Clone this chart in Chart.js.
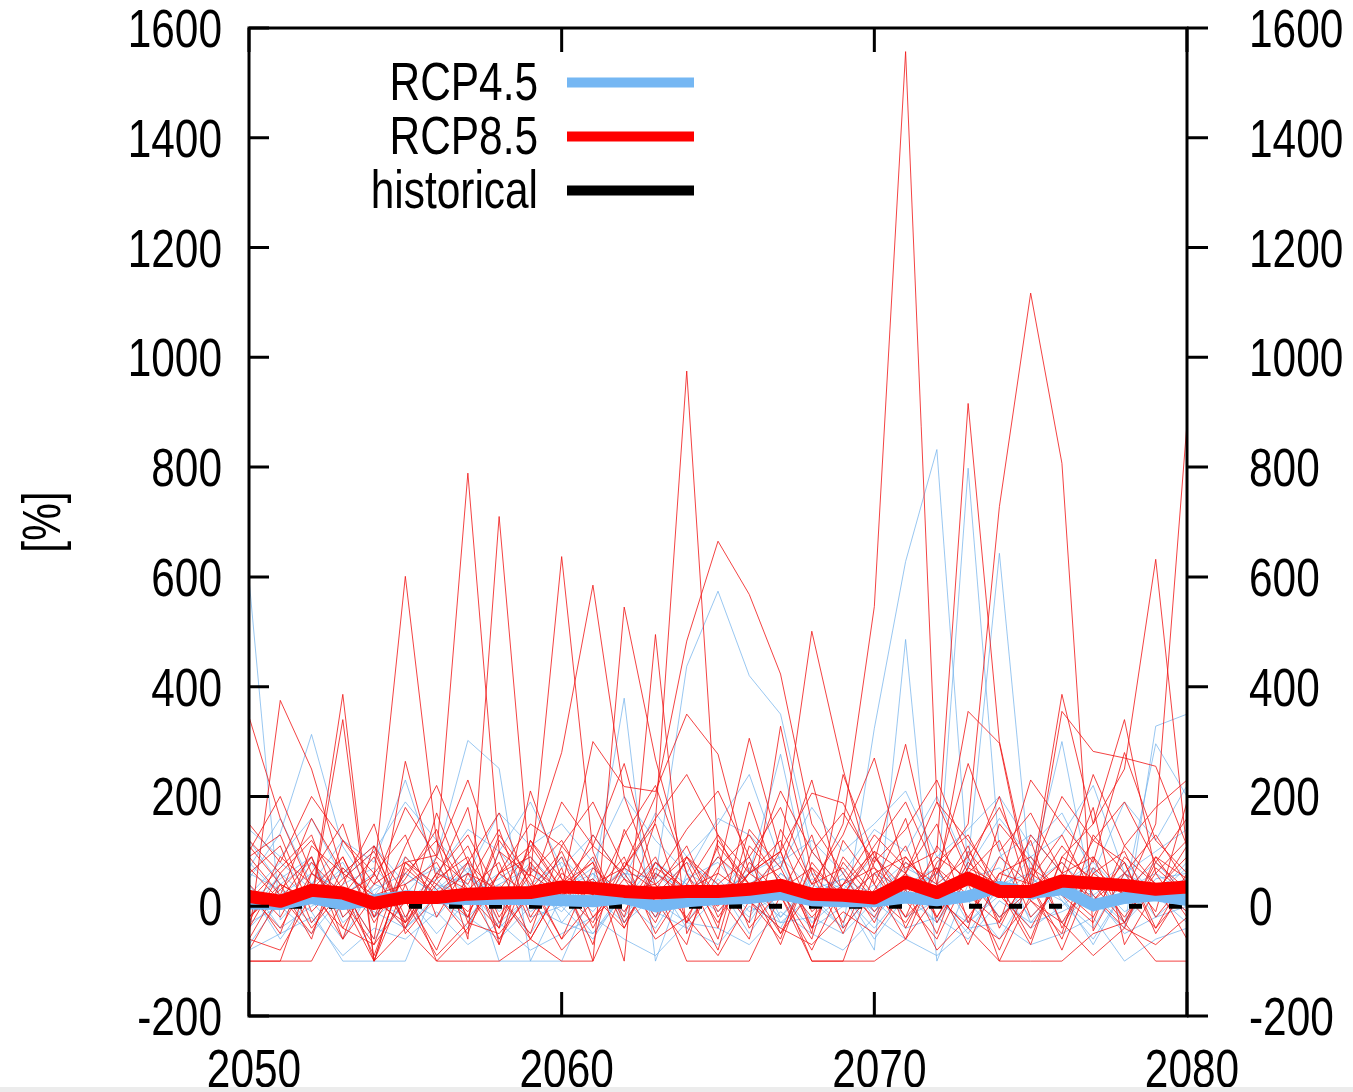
<!DOCTYPE html>
<html>
<head>
<meta charset="utf-8">
<script src="https://cdn.jsdelivr.net/npm/chart.js@4.4.1/dist/chart.umd.min.js"></script>
<style>
  html, body { margin: 0; padding: 0; background: #fff; overflow: hidden; }
  #wrap { position: relative; width: 1353px; height: 1092px; }
  #bar { position: absolute; left: 0; bottom: 0; width: 1353px; height: 5px; background: #ececec; }
</style>
</head>
<body>
<div id="wrap">
  <canvas id="chart" width="1353" height="1092"></canvas>
  <div id="bar"></div>
</div>
<script>
// years on the x axis
const years = [2050, 2051, 2052, 2053, 2054, 2055, 2056, 2057, 2058, 2059,
               2060, 2061, 2062, 2063, 2064, 2065, 2066, 2067, 2068, 2069,
               2070, 2071, 2072, 2073, 2074, 2075, 2076, 2077, 2078, 2079, 2080];
const xTicks = [2050, 2060, 2070, 2080];
const yTicks = [-200, 0, 200, 400, 600, 800, 1000, 1200, 1400, 1600];

// ensemble means [%]
const rcp45Mean = [5, 4, 15, 4, 11, 18, 15, 13, 13, 13, 11, 9, 15, 0, 9, 13, 15, 22, 11, 9,
                   9, 16, 11, 18, 35, 24, 31, 2, 15, 20, 11];
const rcp85Mean = [18, 9, 29, 24, 5, 16, 16, 22, 24, 25, 35, 33, 27, 24, 27, 27, 31, 38, 22, 20,
                   15, 44, 25, 51, 27, 27, 46, 42, 38, 31, 35];
const historical = [0, 0, 0, 0, 0, 0, 0, 0, 0, 0, 0, 0, 0, 0, 0, 0, 0, 0, 0, 0,
                    0, 0, 0, 0, 0, 0, 0, 0, 0, 0, 0];

// individual RCP8.5 runs
const rcp85Runs = [
  [20, -40, 60, 10, -70, 90, 30, -20, 120, 40, -60, 10, 70, 150, -30, 40, 90, -50, 30, 150, 546, 1557, 190, 60, -100, 20, 110, 40, -30, 80, 30],
  [60, 110, -30, 40, 150, -50, 20, 80, -60, 30, 100, -20, 50, 10, -70, 120, 40, 70, -40, 90, 20, -30, 60, 150, 728, 1117, 807, -45, 60, 20, 110],
  [-20, 30, 90, -60, 20, 40, -100, -40, 60, 110, 30, -30, 80, 40, 90, -10, 60, 20, -80, 40, 130, 70, 100, 916, 300, 40, -60, 90, 20, -40, 60],
  [90, 20, -50, 70, 10, -30, 60, 130, 20, -60, 40, 80, -20, 155, 975, 100, -40, 30, 70, -30, 90, 10, -60, 60, 120, -20, 40, 180, -70, 30, 90],
  [10, 70, 130, -20, 40, 80, 93, 789, 100, -30, 60, 20, 90, -50, 40, 130, 10, -60, 100, 30, -20, 80, 40, -70, 60, 90, 20, -30, 110, 40, -10],
  [-60, 40, 10, 90, -30, 60, 120, -60, 710, 58, 20, 90, -40, 70, 30, -80, 110, 50, -20, 40, 100, -40, 70, 20, -30, 130, 60, 10, 80, -50, 40],
  [40, -20, 80, 20, 55, 601, 118, 30, -70, 80, 10, 130, 50, -30, 90, 20, -60, 140, 40, 70, -10, 60, -50, 100, 30, -70, 90, 50, -20, 60, 120],
  [120, 60, -40, 30, -90, 70, 20, -50, 100, 55, 637, 100, -30, 60, 20, 90, 40, -70, 80, 10, 60, -20, 110, 40, -80, 50, 130, 20, -40, 90, 10],
  [-30, 90, 40, -60, 110, 20, -80, 60, 30, 100, 280, 585, 200, 40, -20, 70, 130, 40, -100, -100, 60, 90, 20, -40, 150, 80, -30, 60, 100, -20, 50],
  [30, -50, 110, 60, 20, -40, 90, 40, 140, -20, 70, -100, 545, 268, 60, -30, 80, 20, 130, -40, 30, 110, -20, 70, 40, -60, 90, 150, 250, 632, 100],
  [-100, -100, 60, 20, 90, -30, 40, 110, -20, 70, 30, 80, -100, 495, -50, 60, 20, 100, -40, 80, 10, 60, 150, -30, 90, 40, -80, 60, 20, 150, 880],
  [70, 10, 90, -40, 60, 130, -20, 80, 20, -50, 110, 40, 70, 200, 483, 665, 568, 423, 150, 60, -30, 90, 20, 110, -40, 70, 30, -20, 90, 40, -60],
  [345, 160, 30, 90, -20, 50, 140, -30, 60, 20, 90, -40, 70, 30, 110, -20, 60, 100, 501, 250, 40, -60, 80, 130, 20, -40, 60, 90, -30, 70, 20],
  [-55, 375, 250, 60, -100, 40, 80, -20, 130, 50, -60, 70, 20, 90, -30, 110, 40, -50, 70, 20, 100, 60, -20, 80, 30, 120, -40, 70, 20, 90, 50],
  [110, 40, 7, 340, -100, 80, 20, 60, -40, 120, 30, 300, 218, 209, 350, 277, 60, 100, 206, 188, 70, -20, 40, 90, -30, 60, 20, 120, 80, -40, 30],
  [-40, 60, 120, 30, -60, 264, 50, 90, -30, 60, 120, 20, -40, 80, 30, 60, 306, 100, -50, 240, 90, 30, 70, -20, 60, 40, 386, 150, 340, 60, -20],
  [90, 130, -10, 50, 100, -20, 60, 30, 80, -60, 40, 110, 60, -20, 90, 40, -30, 328, 60, -50, 80, 295, 40, 355, 297, 20, 355, 282, 270, 255, 110],
  [-100, -100, -100, 10, -100, -40, -100, -100, -100, -60, -100, -100, 30, 40, -100, -100, -100, 20, -100, -100, -100, -60, 20, -40, -100, -100, -100, -50, -30, -100, -100],
  [-60, -80, 20, -40, -70, 10, -90, -30, -50, 20, -80, -20, 30, -60, -20, -90, 10, -40, -70, -10, -50, 30, -80, -20, -60, 10, -30, -90, -40, -70, -20],
  [30, 0, 10, 386, -100, 80, 40, -10, 60, 90, 20, 50, -10, 80, 30, 0, 60, 120, -10, 40, 70, 20, 90, 50, -20, 30, 80, 10, 60, 130, 40],
  [150, 80, 200, 120, 40, 180, 90, 230, 60, 150, 110, 190, 70, 160, 240, 130, 60, 210, 100, 170, 80, 140, 230, 90, 180, 60, 200, 120, 190, 80, 160],
  [-20, 40, -60, 120, 60, -30, 170, 20, -40, 210, 50, -70, 140, 20, 80, -40, 190, 30, -60, 120, 40, 160, -30, 70, 200, 10, -50, 130, 60, -10, 190],
  [100, 200, 60, 150, -20, 110, 220, 80, 170, 30, 190, 110, 260, 50, 140, 210, 90, 180, 40, 130, 270, 60, 190, 120, 40, 230, 150, 80, 280, 120, 60],
  [-80, 20, 160, 60, 110, -40, 50, 180, -70, 120, 50, 10, 130, 220, 60, -60, 140, 70, 230, 20, 110, 190, 60, 260, 100, 170, 60, 240, 110, 180, 230]
];

// individual RCP4.5 runs
const rcp45Runs = [
  [596, -25, 40, 80, -20, 60, 20, -40, 100, 30, -10, 60, -30, 20, 80, 40, -50, 30, 10, 60, -20, 40, 70, -30, 20, 90, 10, -40, 60, 30, -10],
  [50, 133, 313, 109, 20, -40, 20, 60, -10, 40, 80, 20, -30, 60, 10, 90, 30, -20, 50, 20, -40, 30, 60, 10, -60, 40, 80, 20, -30, 50, 60],
  [-20, 60, 10, -60, 40, 20, 90, 302, 251, -100, -100, 30, 60, -20, 40, 10, 70, -30, 20, 50, -10, 40, 20, 60, -20, 30, 50, -10, 40, 20, 70],
  [80, 20, -30, 40, 70, 10, -20, 50, 20, 80, -30, 40, 379, -100, 60, 30, -20, 60, 10, -40, 30, 80, 20, -50, 40, 60, -30, 30, 80, 20, 10],
  [10, 50, 90, -20, 30, 60, 20, 70, -30, 20, 40, -10, 60, 50, 437, 574, 420, 350, 100, 30, -60, 20, 60, 10, 50, -20, 40, 70, -30, 30, 50],
  [-40, 20, 60, 30, -60, 10, 50, -20, 40, 70, 20, -50, 30, 80, 10, 40, -30, 60, 20, -40, 324, 628, 832, 60, -20, 40, 10, -60, 30, 80, 20],
  [30, -60, 20, 70, 10, -20, 60, 40, -40, 20, 90, 30, -10, 50, -40, 20, 60, 277, 20, 40, -10, 60, 20, 798, 100, -30, 40, 20, 60, -20, 30],
  [60, 30, -10, -100, -100, -100, 40, 20, 60, -10, 30, 70, 10, -40, 50, 20, 90, -20, 40, 10, 60, 30, -30, 80, 643, 50, 20, -70, 30, 60, 20],
  [-70, 10, 40, 20, 60, -30, 30, 80, -100, -100, 20, 50, -20, 60, 30, -10, 40, 80, -30, 20, -80, 486, -100, 40, 20, 60, 300, 10, -40, 328, 350],
  [120, 40, 80, -30, 20, 90, 30, 60, 10, -50, 40, 20, 70, -20, 50, 80, 10, -40, 60, 30, 90, 20, -30, 50, 70, 10, 40, 80, 20, 296, 200],
  [-80, -50, -20, -90, -40, -60, -10, -70, -30, -80, -50, -20, -60, -90, -30, -40, -70, -10, -50, -80, -20, -60, -90, -40, -30, -70, -50, -20, -100, -60, -40],
  [20, 80, 30, 60, 110, 40, 70, 20, 50, 90, 30, 60, 10, 80, 40, 20, 60, 90, 30, 50, 20, 70, 40, 10, 90, 130, 60, 30, 50, 20, 80],
  [-30, 0, -50, 20, -10, -40, 10, -20, -60, 0, -30, -50, 20, -10, -40, -70, 0, -30, -20, -50, 10, -40, -20, -60, 10, -30, -10, 20, -50, -20, 0],
  [40, -40, 0, 30, -20, 20, -50, 10, 40, -20, 0, -60, 30, 10, -30, 50, -10, 20, -40, 0, 40, -20, 10, -30, 30, -40, 0, 50, -10, 20, -30],
  [140, 90, 160, 50, 100, 190, 120, 60, 170, 110, 150, 80, 200, 120, 60, 160, 130, 70, 180, 100, 150, 210, 90, 140, 200, 110, 170, 60, 190, 120, 220],
  [70, 160, 40, 120, 80, 230, 60, 140, 100, 190, 70, 130, 50, 170, 90, 150, 240, 80, 120, 60, 140, 100, 200, 70, 160, 90, 130, 220, 60, 100, 140]
];

const FONT = "'Liberation Sans', Arial, sans-serif";
const FONT_SIZE = 53;
const SQUEEZE = 0.8;   // the original uses a narrow Helvetica
Chart.defaults.font.family = FONT;
Chart.defaults.color = '#000';

const BLUE = '#75b7f3';
const RED = '#ff0000';

function toPoints(vals) {
  return vals.map((v, i) => ({ x: years[i], y: v }));
}

// lower order = drawn on top
const datasets = [];
datasets.push({ label: 'RCP8.5', data: toPoints(rcp85Mean), borderColor: RED, borderWidth: 13,
                borderJoinStyle: 'round', borderCapStyle: 'round', order: 0, legendRank: 1 });
datasets.push({ label: 'RCP4.5', data: toPoints(rcp45Mean), borderColor: BLUE, borderWidth: 12,
                borderJoinStyle: 'round', borderCapStyle: 'round', order: 1, legendRank: 0 });
datasets.push({ label: 'historical', data: toPoints(historical), borderColor: '#000', borderWidth: 5,
                borderDash: [13, 27], order: 2, legendRank: 2 });
rcp85Runs.forEach(run => {
  datasets.push({ label: '', data: toPoints(run), borderColor: 'rgba(240,20,20,0.8)', borderWidth: 1, order: 3 });
});
rcp45Runs.forEach(run => {
  datasets.push({ label: '', data: toPoints(run), borderColor: 'rgba(110,175,235,0.7)', borderWidth: 1, order: 4 });
});

// narrow text: squeeze horizontally around the anchor point
function narrowText(ctx, text, x, y, align, rotate) {
  ctx.save();
  ctx.translate(x, y);
  if (rotate) ctx.rotate(rotate);
  ctx.scale(SQUEEZE, 1);
  ctx.textAlign = align;
  ctx.fillText(text, 0, 0);
  ctx.restore();
}

// frame, inward/outward ticks, tick labels and the key, drawn like the original plot
const framePlugin = {
  id: 'frame',
  afterDatasetsDraw(chart) {
    const { ctx, chartArea: a, scales: { x, y, y2 } } = chart;
    ctx.save();
    ctx.strokeStyle = '#000';
    ctx.lineWidth = 3;
    ctx.strokeRect(a.left, a.top, a.right - a.left, a.bottom - a.top);
    ctx.beginPath();
    yTicks.forEach(v => {
      const py = y.getPixelForValue(v);
      ctx.moveTo(a.left, py); ctx.lineTo(a.left + 20, py);
      ctx.moveTo(a.right, py); ctx.lineTo(a.right + 21, py);
    });
    xTicks.forEach(v => {
      const px = x.getPixelForValue(v);
      ctx.moveTo(px, a.bottom); ctx.lineTo(px, a.bottom - 24);
      ctx.moveTo(px, a.top); ctx.lineTo(px, a.top + 24);
    });
    ctx.stroke();

    ctx.fillStyle = '#000';
    ctx.font = FONT_SIZE + 'px ' + FONT;
    ctx.textBaseline = 'alphabetic';
    // tick labels
    y.ticks.forEach(t => {
      narrowText(ctx, String(t.value), a.left - 27, y.getPixelForValue(t.value) + 19, 'right');
    });
    y2.ticks.forEach(t => {
      narrowText(ctx, String(t.value), a.right + 62, y2.getPixelForValue(t.value) + 19, 'left');
    });
    x.ticks.forEach(t => {
      narrowText(ctx, String(t.value), x.getPixelForValue(t.value) + 5, 1087, 'center');
    });
    // axis title
    ctx.textBaseline = 'middle';
    narrowText(ctx, '[%]', 45, (a.top + a.bottom) / 2, 'center', -Math.PI / 2);

    // key
    const keys = chart.data.datasets.filter(d => d.legendRank !== undefined)
      .sort((p, q) => p.legendRank - q.legendRank);
    ctx.textBaseline = 'alphabetic';
    keys.forEach((d, i) => {
      const cy = 82.5 + i * 54;
      ctx.fillStyle = '#000';
      narrowText(ctx, d.label, 538, cy + 17, 'right');
      ctx.beginPath();
      ctx.lineWidth = 10;
      ctx.lineCap = 'butt';
      ctx.strokeStyle = d.borderColor;
      ctx.moveTo(567, cy); ctx.lineTo(694, cy);
      ctx.stroke();
    });
    ctx.restore();
  }
};

function fixTicks(list) {
  return function (scale) { scale.ticks = list.map(v => ({ value: v })); };
}

new Chart(document.getElementById('chart'), {
  type: 'line',
  data: { datasets },
  options: {
    responsive: false,
    animation: false,
    devicePixelRatio: 1,
    layout: { padding: { top: 28, left: 0, right: 0, bottom: 0 } },
    elements: { point: { radius: 0 }, line: { tension: 0 } },
    plugins: { legend: { display: false }, tooltip: { enabled: false } },
    scales: {
      x: {
        type: 'linear', min: 2050, max: 2080,
        afterBuildTicks: fixTicks(xTicks),
        grid: { display: false, drawTicks: false },
        border: { display: false },
        ticks: { display: false },
        afterFit(s) { s.height = 76; s.paddingLeft = 0; s.paddingRight = 0; }
      },
      y: {
        position: 'left', min: -200, max: 1600,
        afterBuildTicks: fixTicks(yTicks),
        grid: { display: false, drawTicks: false },
        border: { display: false },
        ticks: { display: false },
        afterFit(s) { s.width = 249; s.paddingTop = 0; s.paddingBottom = 0; }
      },
      y2: {
        position: 'right', min: -200, max: 1600,
        afterBuildTicks: fixTicks(yTicks),
        grid: { display: false, drawTicks: false },
        border: { display: false },
        ticks: { display: false },
        afterFit(s) { s.width = 166; s.paddingTop = 0; s.paddingBottom = 0; }
      }
    }
  },
  plugins: [framePlugin]
});
</script>
</body>
</html>
